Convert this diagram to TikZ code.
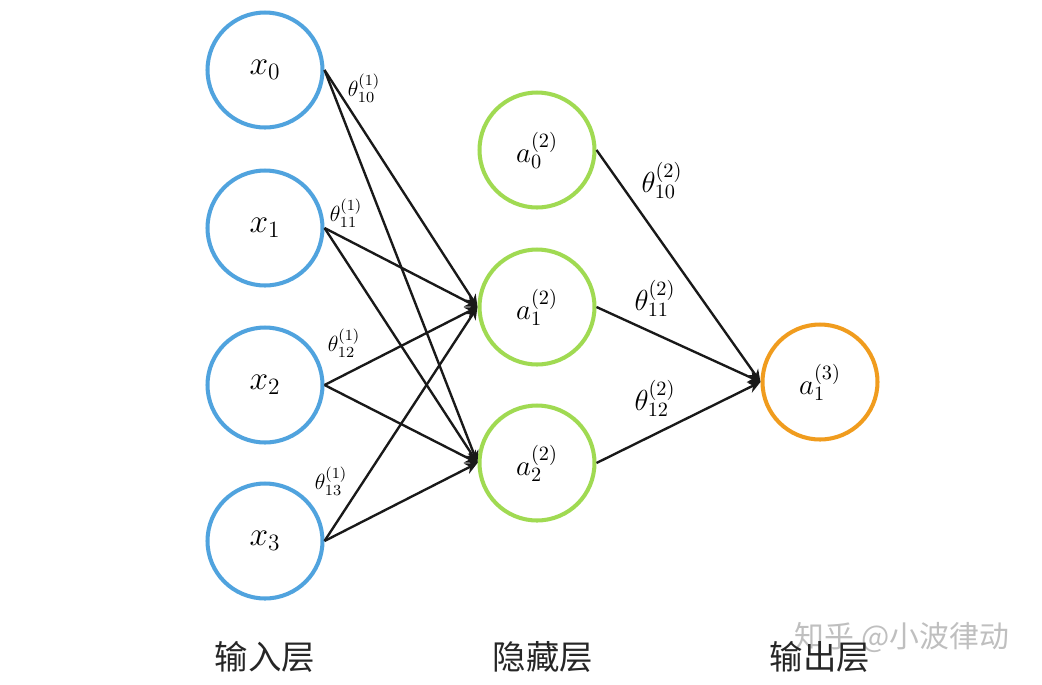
\RequirePackage{fix-cm}
\documentclass[tikz,border=0pt]{standalone}
\usepackage{fontspec}
\newfontfamily\cjk{Noto Sans CJK SC}
\usetikzlibrary{arrows.meta}
\definecolor{inblue}{RGB}{80,163,222}
\definecolor{hidgreen}{RGB}{160,218,82}
\definecolor{outorange}{RGB}{240,156,30}
\definecolor{edgecol}{RGB}{25,25,25}
\tikzset{
  neuron/.style={circle,draw,line width=2.3pt,minimum size=2.3cm,inner sep=0pt,fill=white},
  inp/.style={neuron,draw=inblue,font=\fontsize{19}{22}\selectfont},
  hid/.style={neuron,draw=hidgreen,font=\fontsize{16.5}{20}\selectfont},
  outp/.style={neuron,draw=outorange,font=\fontsize{16.5}{20}\selectfont},
  edge/.style={draw=edgecol,line width=1.35pt,-{Stealth[length=7pt,width=6.5pt]}},
  wone/.style={font=\fontsize{12.5}{15}\selectfont,inner sep=0pt},
  wtwo/.style={font=\fontsize{16.5}{20}\selectfont,inner sep=0pt},
  layerlabel/.style={font=\cjk\fontsize{19}{22}\selectfont,text=black!85},
  wmark/.style={font=\cjk\fontsize{17}{20}\selectfont,text=black!25}
}
\begin{document}
\begin{tikzpicture}[x=0.02cm,y=-0.02cm]
\useasboundingbox (0,0) rectangle (1042,684);
% input layer
\node[inp] (x0) at (265,70) {$x_0$};
\node[inp] (x1) at (265,228) {$x_1$};
\node[inp] (x2) at (265,385) {$x_2$};
\node[inp] (x3) at (265,541) {$x_3$};
% hidden layer
\node[hid] (a0) at (537,150) {$a_0^{(2)}$};
\node[hid] (a1) at (537,307) {$a_1^{(2)}$};
\node[hid] (a2) at (537,463) {$a_2^{(2)}$};
% output
\node[outp] (o1) at (820,382) {$a_1^{(3)}$};
% edges input -> hidden
\foreach \s in {x0,x1,x2,x3}{
  \draw[edge] (\s.east) -- (a1.west);
  \draw[edge] (\s.east) -- (a2.west);
}
% edges hidden -> output
\draw[edge] (a0.east) -- (o1.west);
\draw[edge] (a1.east) -- (o1.west);
\draw[edge] (a2.east) -- (o1.west);
% weight labels
\node[wone] (t10) at (364,88) {$\theta_{10}^{(1)}$};
\node[wone] (t11) at (346,213) {$\theta_{11}^{(1)}$};
\node[wone] (t12) at (344,343) {$\theta_{12}^{(1)}$};
\node[wone] (t13) at (331,481) {$\theta_{13}^{(1)}$};
\node[wtwo] (u10) at (662,180) {$\theta_{10}^{(2)}$};
\node[wtwo] (u11) at (655,298) {$\theta_{11}^{(2)}$};
\node[wtwo] (u12) at (655,398) {$\theta_{12}^{(2)}$};
% layer labels
\node[wmark] (wm) at (902,638) {知乎 @小波律动};
\node[layerlabel] (l1) at (265,657) {输入层};
\node[layerlabel] (l2) at (543,657) {隐藏层};
\node[layerlabel] (l3) at (820,657) {输出层};
\end{tikzpicture}
\end{document}
